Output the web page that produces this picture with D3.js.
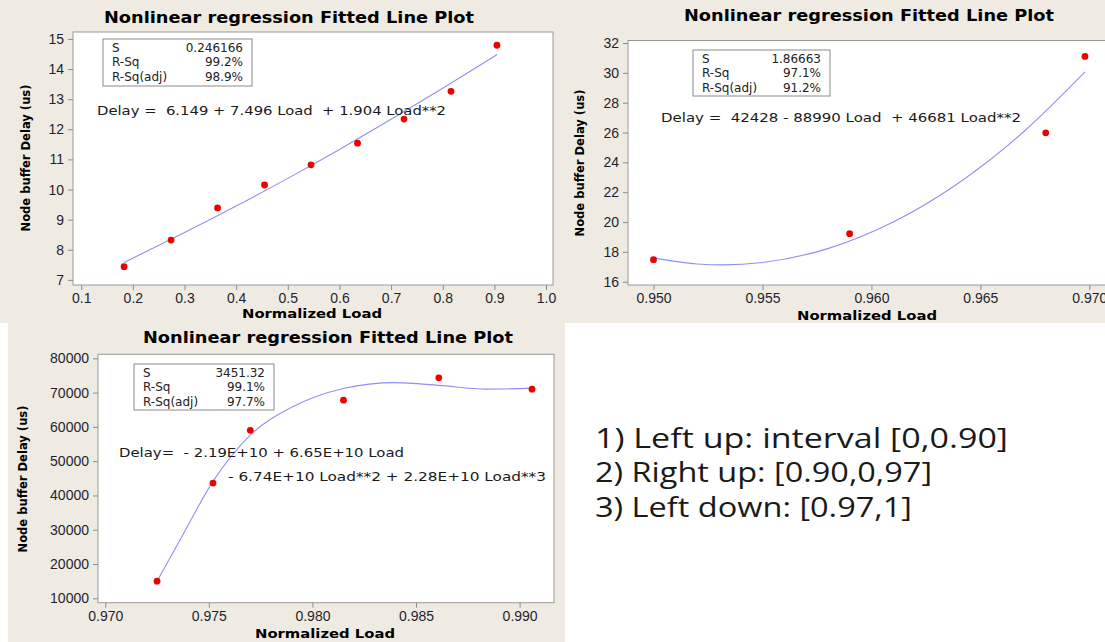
<!DOCTYPE html>
<html>
<head>
<meta charset="utf-8">
<script src="https://cdn.jsdelivr.net/npm/d3@7"></script>
<style>
  body { margin: 0; background: #fff; }
  svg { display: block; font-family: "DejaVu Sans", Verdana, sans-serif; }
  .tick text { fill: #1f1f2e; font-size: 14px; }
  .tick line { stroke: #8c8c8c; }
</style>
</head>
<body>
<svg id="chart" width="1105" height="642"></svg>
<script>
// ---- panel 1 : interval [0, 0.90]
var load1 = [0.183, 0.274, 0.364, 0.455, 0.545, 0.635, 0.725, 0.816, 0.905];
var delay1 = [7.44, 8.32, 9.39, 10.15, 10.82, 11.54, 12.34, 13.26, 14.79];
var fitLoad1 = [0.183, 0.3, 0.4, 0.5, 0.6, 0.7, 0.8, 0.905];
var fitDelay1 = [7.58, 8.57, 9.45, 10.37, 11.33, 12.33, 13.36, 14.48];
var xTicks1 = [0.1, 0.2, 0.3, 0.4, 0.5, 0.6, 0.7, 0.8, 0.9, 1.0];
var yTicks1 = [7, 8, 9, 10, 11, 12, 13, 14, 15];
var stats1 = [["S", "0.246166"], ["R-Sq", "99.2%"], ["R-Sq(adj)", "98.9%"]];
var eq1 = ["Delay =  6.149 + 7.496 Load  + 1.904 Load**2"];

// ---- panel 2 : interval [0.90, 0.97]
var load2 = [0.950, 0.959, 0.968, 0.9698];
var delay2 = [17.48, 19.22, 25.98, 31.10];
var fitLoad2 = [0.950, 0.952, 0.9532, 0.955, 0.958, 0.961, 0.964, 0.967, 0.9698];
var fitDelay2 = [17.60, 17.19, 17.13, 17.29, 18.22, 20.00, 22.62, 26.07, 30.06];
var xTicks2 = [0.950, 0.955, 0.960, 0.965, 0.970];
var yTicks2 = [16, 18, 20, 22, 24, 26, 28, 30, 32];
var stats2 = [["S", "1.86663"], ["R-Sq", "97.1%"], ["R-Sq(adj)", "91.2%"]];
var eq2 = ["Delay =  42428 - 88990 Load  + 46681 Load**2"];

// ---- panel 3 : interval [0.97, 1]
var load3 = [0.9725, 0.9752, 0.9770, 0.9815, 0.9861, 0.9906];
var delay3 = [15000, 43600, 59000, 67800, 74300, 71000];
var fitLoad3 = [0.9725, 0.9737, 0.9752, 0.9770, 0.9790, 0.9815, 0.9840, 0.9861, 0.9884, 0.9906];
var fitDelay3 = [15000, 28000, 44100, 57600, 65700, 71200, 72900, 72100, 71000, 71300];
var xTicks3 = [0.970, 0.975, 0.980, 0.985, 0.990];
var yTicks3 = [10000, 20000, 30000, 40000, 50000, 60000, 70000, 80000];
var stats3 = [["S", "3451.32"], ["R-Sq", "99.1%"], ["R-Sq(adj)", "97.7%"]];
var eq3 = ["Delay=  - 2.19E+10 + 6.65E+10 Load", "- 6.74E+10 Load**2 + 2.28E+10 Load**3"];

var notes = ["1) Left up: interval [0,0.90]", "2) Right up: [0.90,0,97]", "3) Left down: [0.97,1]"];
var noteWidths = [413, 337, 317];

var title = "Nonlinear regression Fitted Line Plot";
var xLabel = "Normalized Load";
var yLabel = "Node buffer Delay (us)";

var svg = d3.select("#chart");

// beige panel backgrounds
svg.append("rect").attr("x", 0).attr("y", 0).attr("width", 1105).attr("height", 323).attr("fill", "#efebe2");
svg.append("rect").attr("x", 8).attr("y", 323).attr("width", 557).attr("height", 319).attr("fill", "#efebe2");

function drawPanel(o) {
    var g = svg.append("g");
    var x = d3.scaleLinear().domain(o.xDomain).range([o.box[0], o.box[1]]);
    var y = d3.scaleLinear().domain(o.yDomain).range([o.box[3], o.box[2]]);

    g.append("rect")
        .attr("x", o.box[0]).attr("y", o.box[2])
        .attr("width", o.box[1] - o.box[0]).attr("height", o.box[3] - o.box[2])
        .attr("fill", "#fff").attr("stroke", "#9a9a9a");

    g.append("g")
        .attr("transform", `translate(0, ${o.box[3]})`)
        .call(d3.axisBottom(x).tickValues(o.xTicks).tickFormat(d3.format(o.xFmt)).tickSize(5).tickPadding(3))
        .call(a => a.select(".domain").remove());

    g.append("g")
        .attr("transform", `translate(${o.box[0]}, 0)`)
        .call(d3.axisLeft(y).tickValues(o.yTicks).tickFormat(d3.format("d")).tickSize(5).tickPadding(4))
        .call(a => a.select(".domain").remove());

    // fitted curve
    var fit = o.fitX.map((v, i) => [v, o.fitY[i]]);
    g.append("path")
        .datum(fit)
        .attr("fill", "none")
        .attr("stroke", "#8f8ff5")
        .attr("stroke-width", 1.1)
        .attr("d", d3.line().x(d => x(d[0])).y(d => y(d[1])).curve(d3.curveMonotoneX));

    // observations
    g.selectAll("circle.pt")
        .data(o.px.map((v, i) => [v, o.py[i]]))
        .enter()
        .append("circle")
        .attr("class", "pt")
        .attr("cx", d => x(d[0]))
        .attr("cy", d => y(d[1]))
        .attr("r", 3.4)
        .attr("fill", "#ee0000");

    // stats table
    var sb = o.statBox;
    g.append("rect")
        .attr("x", sb[0]).attr("y", sb[1]).attr("width", sb[2]).attr("height", sb[3])
        .attr("fill", "#fff").attr("stroke", "#8a8a8a");
    o.stats.forEach(function(s, i) {
        g.append("text").attr("x", sb[0] + 9).attr("y", sb[1] + 12.5 + i * 14.7)
            .attr("font-size", 12).attr("fill", "#222").text(s[0]);
        g.append("text").attr("x", sb[0] + sb[2] - 9).attr("y", sb[1] + 12.5 + i * 14.7)
            .attr("font-size", 12).attr("fill", "#222").attr("text-anchor", "end").text(s[1]);
    });

    // regression equation
    o.eq.forEach(function(t, i) {
        g.append("text")
            .attr("x", o.eqPos[i][0]).attr("y", o.eqPos[i][1])
            .attr("font-size", 13).attr("fill", "#1a1a1a")
            .attr("textLength", o.eqPos[i][2]).attr("lengthAdjust", "spacingAndGlyphs")
            .style("white-space", "pre")
            .text(t);
    });

    // titles
    g.append("text")
        .attr("x", o.titlePos[0]).attr("y", o.titlePos[1])
        .attr("text-anchor", "middle").attr("font-size", 16).attr("font-weight", "bold")
        .attr("textLength", 370).attr("lengthAdjust", "spacingAndGlyphs")
        .text(title);

    g.append("text")
        .attr("x", o.xLabPos[0]).attr("y", o.xLabPos[1])
        .attr("text-anchor", "middle").attr("font-size", 13).attr("font-weight", "bold")
        .attr("textLength", 140).attr("lengthAdjust", "spacingAndGlyphs")
        .text(xLabel);

    g.append("text")
        .attr("transform", `translate(${o.yLabPos[0]}, ${o.yLabPos[1]}) rotate(-90)`)
        .attr("text-anchor", "middle").attr("font-size", 13).attr("font-weight", "bold")
        .attr("textLength", 147).attr("lengthAdjust", "spacingAndGlyphs")
        .text(yLabel);
}

drawPanel({
    box: [73, 553, 32, 285],
    xDomain: [0.0841, 1.0135], yDomain: [6.83, 15.23],
    xTicks: xTicks1, yTicks: yTicks1, xFmt: ".1f",
    px: load1, py: delay1, fitX: fitLoad1, fitY: fitDelay1,
    stats: stats1, statBox: [103, 39, 149, 47],
    eq: eq1, eqPos: [[97, 115, 349]],
    titlePos: [289, 23], xLabPos: [312, 318], yLabPos: [30, 158]
});

drawPanel({
    box: [628, 1112, 40.5, 285],
    xDomain: [0.94883, 0.97104], yDomain: [15.78, 32.17],
    xTicks: xTicks2, yTicks: yTicks2, xFmt: ".3f",
    px: load2, py: delay2, fitX: fitLoad2, fitY: fitDelay2,
    stats: stats2, statBox: [693, 50, 137, 46],
    eq: eq2, eqPos: [[661, 121.5, 360]],
    titlePos: [869, 21], xLabPos: [867, 320], yLabPos: [584, 163]
});

drawPanel({
    box: [98, 554, 354.3, 602.7],
    xDomain: [0.96965, 0.99166], yDomain: [8717, 81167],
    xTicks: xTicks3, yTicks: yTicks3, xFmt: ".3f",
    px: load3, py: delay3, fitX: fitLoad3, fitY: fitDelay3,
    stats: stats3, statBox: [134, 364, 140, 46],
    eq: eq3, eqPos: [[119, 456.5, 285], [228, 480.5, 318]],
    titlePos: [328, 342.5], xLabPos: [325, 637.5], yLabPos: [27, 479]
});

// interval notes
svg.append("g").selectAll("text")
    .data(notes)
    .enter()
    .append("text")
    .attr("x", 595)
    .attr("y", (d, i) => 447.5 + i * 34.6)
    .attr("font-family", "'Open Sans', Lato, sans-serif")
    .attr("font-size", 27)
    .attr("fill", "#1a1a1a")
    .attr("textLength", (d, i) => noteWidths[i])
    .attr("lengthAdjust", "spacingAndGlyphs")
    .text(d => d);
</script>
</body>
</html>
